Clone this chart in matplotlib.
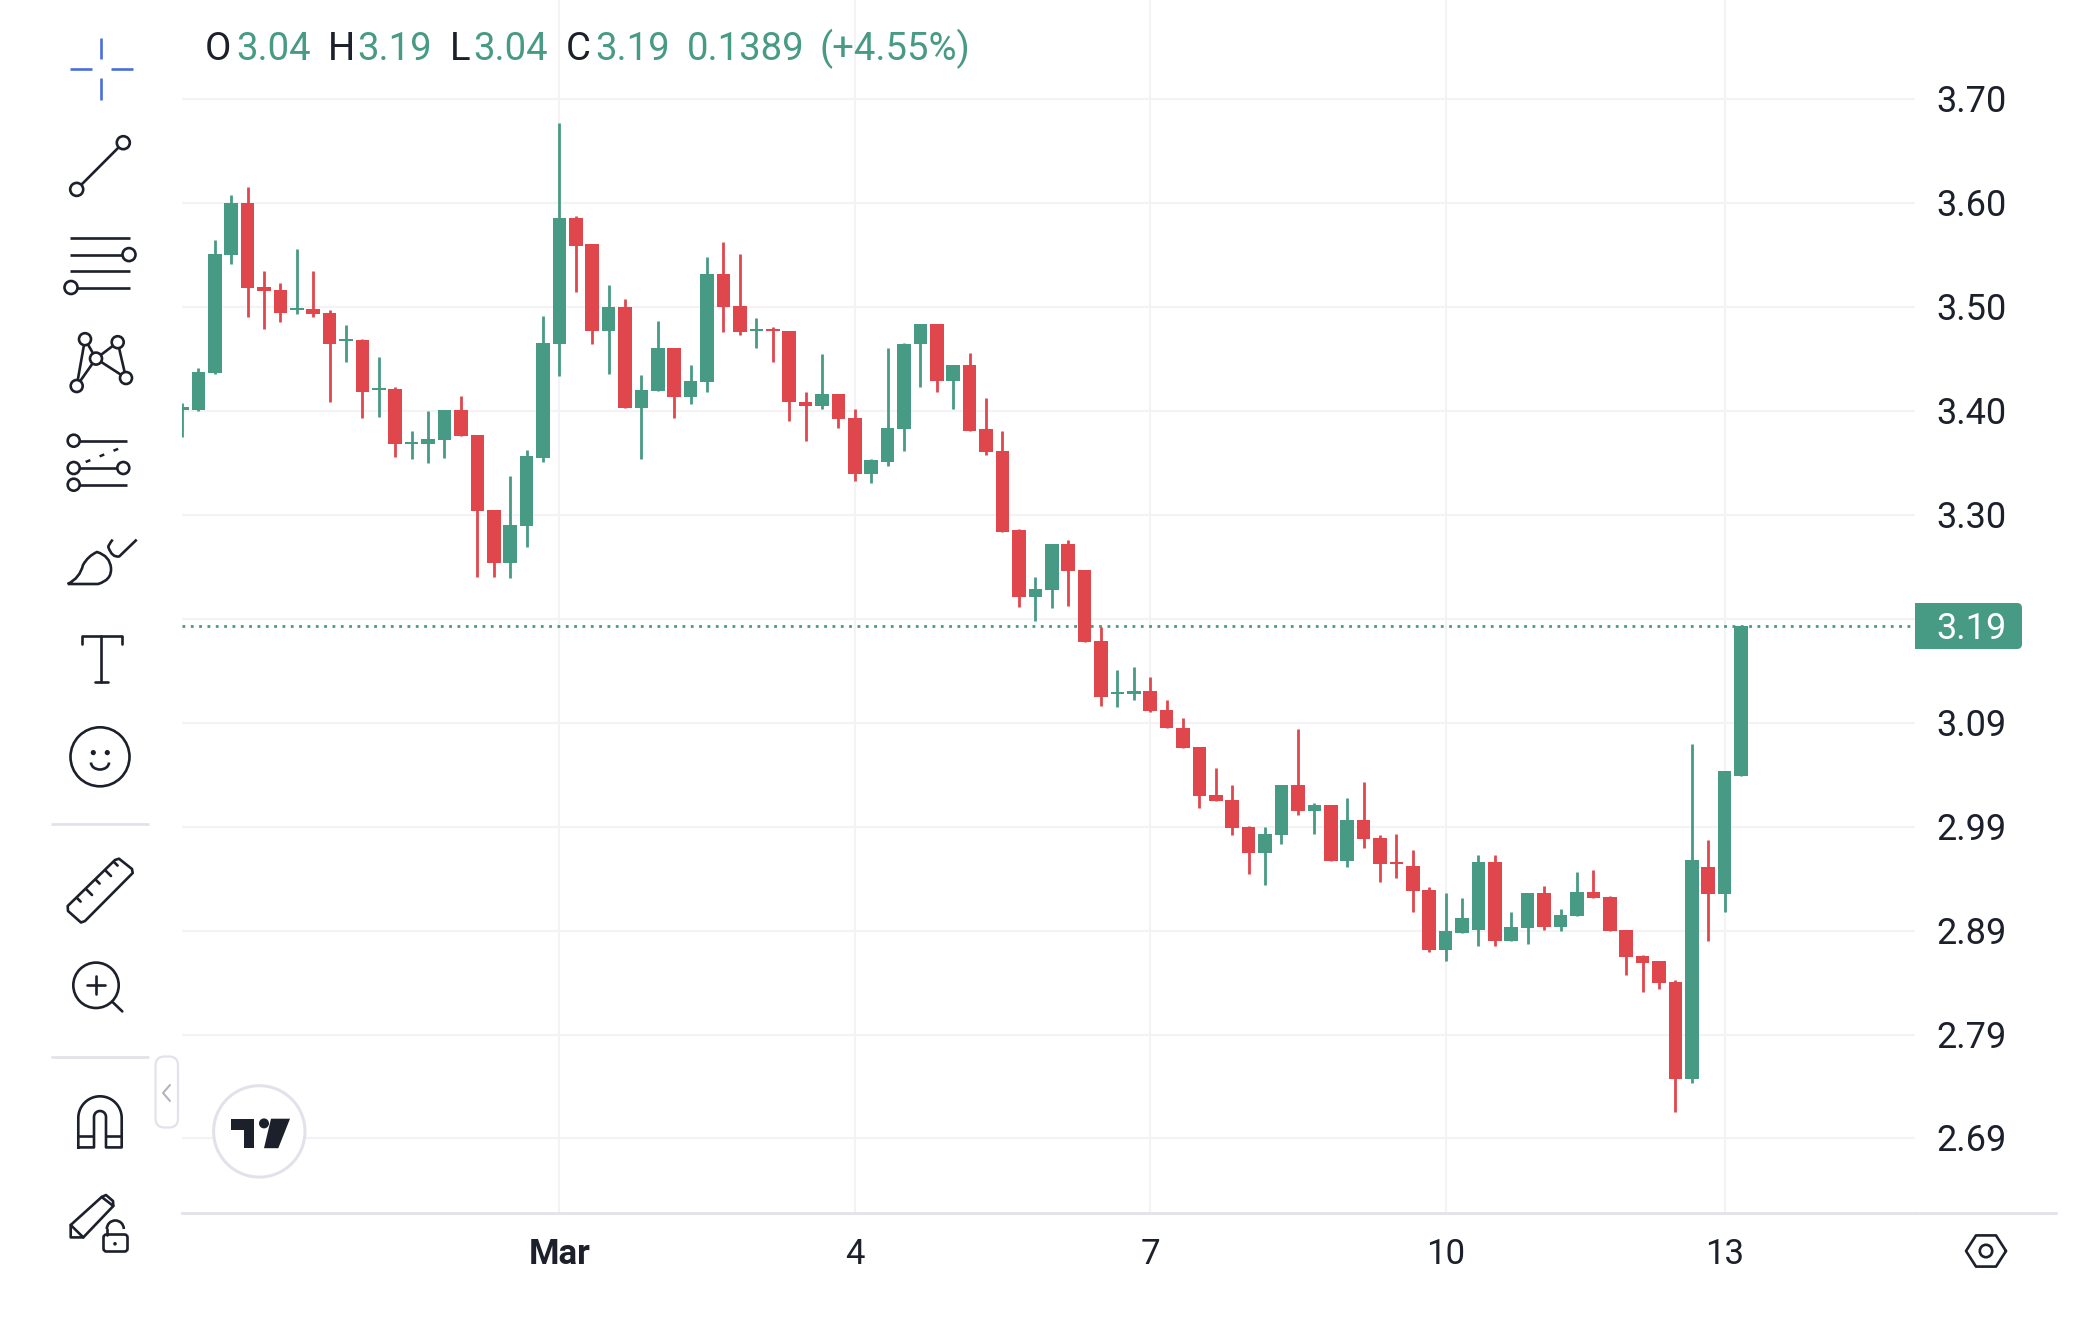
import numpy as np
import matplotlib
matplotlib.use("Agg")
import matplotlib.pyplot as plt
from matplotlib.patches import Circle, Polygon, Rectangle, FancyBboxPatch, PathPatch, Arc
from matplotlib.path import Path

plt.rcParams['font.family'] = ['Roboto', 'DejaVu Sans']

# 4-hour candles, one per bar
opens = [3.396,3.396,3.4316,3.5449,3.5949,3.5144,3.5119,3.4920,3.4932,3.4894,
         3.4624,3.4634,3.4150,3.4159,3.3636,3.3633,3.3672,3.3960,3.3723,3.2998,
         3.2485,3.2844,3.3502,3.4592,3.5805,3.5555,3.4724,3.4948,3.3976,3.4146,
         3.4554,3.4082,3.4227,3.5266,3.4961,3.4717,3.4737,3.4724,3.4041,3.3999,
         3.4118,3.3880,3.3341,3.3460,3.3777,3.4592,3.4791,3.4236,3.4397,3.3774,
         3.3566,3.2802,3.2157,3.2225,3.2671,3.2420,3.1734,3.1227,3.1227,3.1259,
         3.1076,3.0903,3.0720,3.0258,3.0207,2.9943,2.9696,2.9867,3.0354,3.0104,
         3.0155,2.9616,3.0011,2.9841,2.9613,2.9575,2.9340,2.8760,2.8930,2.8955,
         2.9613,2.8853,2.8971,2.9311,2.8984,2.9090,2.9325,2.9275,2.8957,2.8705,
         2.8655,2.8459,2.7525,2.9563,2.9298,3.0435]
highs = [3.4025,3.4368,3.5593,3.6026,3.6103,3.5301,3.5186,3.5513,3.5301,3.4920,
         3.4775,3.4644,3.4474,3.4185,3.3761,3.3948,3.3960,3.4092,3.3723,3.2998,
         3.3328,3.3579,3.4868,3.6726,3.5831,3.5555,3.5160,3.5025,3.4300,3.4817,
         3.4554,3.4397,3.5436,3.5580,3.5462,3.4843,3.4762,3.4724,3.4130,3.4499,
         3.4118,3.3973,3.3489,3.4554,3.4605,3.4791,3.4791,3.4397,3.4512,3.4079,
         3.3761,3.2815,3.2353,3.2671,3.2709,3.2420,3.1869,3.1458,3.1483,3.1394,
         3.1169,3.0999,3.0720,3.0511,3.0354,2.9956,2.9943,3.0354,3.0893,3.0181,
         3.0155,3.0223,3.0377,2.9867,2.9879,2.9722,2.9366,2.9311,2.9260,2.9680,
         2.9680,2.9129,2.9311,2.9379,2.9154,2.9510,2.9537,2.9288,2.8957,2.8718,
         2.8655,2.8479,3.0746,2.9825,3.0485,3.1883]
lows = [3.3697,3.3948,3.4304,3.5369,3.4859,3.4737,3.4804,3.4884,3.4855,3.4041,
        3.4419,3.3880,3.3896,3.3511,3.3486,3.3447,3.3498,3.3710,3.2356,3.2356,
        3.2340,3.2645,3.3463,3.4291,3.5093,3.4592,3.4304,3.3976,3.3486,3.4146,
        3.3883,3.4015,3.4134,3.4711,3.4685,3.4554,3.4422,3.3854,3.3659,3.3973,
        3.3790,3.3274,3.3261,3.3421,3.3566,3.4185,3.4134,3.3973,3.3761,3.3527,
        3.2789,3.2064,3.1933,3.2051,3.2077,3.1724,3.1115,3.1105,3.1169,3.1050,
        3.0896,3.0710,3.0130,3.0197,2.9867,2.9498,2.9392,2.9786,3.0065,2.9879,
        2.9616,2.9562,2.9748,2.9417,2.9459,2.9129,2.8747,2.8654,2.8930,2.8798,
        2.8798,2.8853,2.8824,2.8955,2.8943,2.9090,2.9262,2.8943,2.8526,2.8363,
        2.8390,2.7206,2.7485,2.8854,2.9129,3.0435]
closes = [3.399,3.4329,3.5462,3.5949,3.5135,3.5109,3.4897,3.4945,3.4884,3.4592,
          3.4644,3.4134,3.4169,3.3633,3.3656,3.3684,3.3960,3.3710,3.2988,3.2485,
          3.2854,3.3514,3.4605,3.5805,3.5542,3.4724,3.4948,3.3976,3.4156,3.4554,
          3.4082,3.4236,3.5266,3.4948,3.4711,3.4737,3.4717,3.4041,3.4002,3.4118,
          3.3870,3.3341,3.3476,3.3790,3.4592,3.4791,3.4236,3.4397,3.3761,3.3553,
          3.2789,3.2157,3.2234,3.2671,3.2408,3.1724,3.1195,3.1246,3.1259,3.1066,
          3.0896,3.0710,3.0248,3.0197,2.9934,2.9696,2.9879,3.0354,3.0104,3.0155,
          2.9616,3.0011,2.9828,2.9591,2.9591,2.9328,2.8760,2.8943,2.9074,2.9613,
          2.8853,2.8981,2.9311,2.8984,2.9100,2.9324,2.9262,2.8943,2.8695,2.8642,
          2.8446,2.7525,2.9629,2.9298,3.0485,3.1883]

price_ticks = [3.695,3.595,3.495,3.395,3.295,3.195,3.095,2.995,2.895,2.795,2.695]
price_labels = ['3.70','3.60','3.50','3.40','3.30','','3.09','2.99','2.89','2.79','2.69']
time_ticks = [23, 41, 59, 77, 94]
time_labels = ['Mar', '4', '7', '10', '13']
header = [('O','k'),('3.04','g'),('H','k'),('3.19','g'),('L','k'),('3.04','g'),
          ('C','k'),('3.19','g'),('0.1389','g'),('(+4.55%)','g')]
last_label = '3.19'

GREEN = '#479a83'
RED = '#e0474d'
INK = '#1c202b'
GRID = '#f3f3f5'
EDGE = '#e2e3ea'
FS = 26

W, H = 2084, 1332
fig = plt.figure(figsize=(W/100, H/100), dpi=100, facecolor='white')
L_, R_, B_ = 182, 1915, 1212.5
ax = fig.add_axes([L_/W, (H-B_)/H, (R_-L_)/W, B_/H])
ax.set_xlim(0.006, 105.6)
ax.set_ylim(2.6237, 3.7907)
x = np.arange(len(opens))
o, h, l, c = map(np.array, (opens, highs, lows, closes))
cols = [GREEN if ci >= oi else RED for oi, ci in zip(o, c)]
ax.vlines(x, l, h, colors=cols, linewidth=2.0, zorder=3)
ax.bar(x, np.abs(c-o), bottom=np.minimum(o, c), width=0.83, color=cols, linewidth=0, zorder=3)
ax.axhline(c[-1], color=GREEN, lw=2.0, ls=(0, (1, 2)), zorder=2.5)

ax.set_xticks(time_ticks, time_labels)
ax.set_yticks(price_ticks, [])
ax.yaxis.tick_right()
ax.tick_params(axis='y', length=0)
ax.tick_params(axis='x', length=0, pad=18, labelsize=25, labelcolor=INK)
ax.get_xticklabels()[0].set_fontweight('bold')
ax.grid(True, color=GRID, lw=1.5, zorder=0)
ax.set_axisbelow(True)
for s in ('top', 'right', 'left'):
    ax.spines[s].set_visible(False)
ax.spines['bottom'].set_color(EDGE)
ax.spines['bottom'].set_linewidth(2)

# price labels, anchored to the price scale with a small fixed offset
ptrans = ax.get_yaxis_transform()
for pv, pl in zip(price_ticks, price_labels):
    ax.annotate(pl, xy=(1, pv), xycoords=ptrans, xytext=(15.7, 0.7), textcoords='offset points',
                fontsize=FS, color=INK, ha='left', va='center_baseline', annotation_clip=False)

# full-figure pixel overlay for the chart furniture
ov = fig.add_axes([0, 0, 1, 1], zorder=5)
ov.set_xlim(0, W); ov.set_ylim(H, 0); ov.axis('off'); ov.patch.set_alpha(0)
LW = 1.9
def line(xs, ys, color=INK, lw=LW, **kw):
    ov.plot(xs, ys, color=color, lw=lw, solid_capstyle=kw.pop('cap', 'round'), zorder=kw.pop('zorder', 7), **kw)
def ring(cx, cy, r=6.5, lw=LW, ec=INK, fc='white', z=6):
    ov.add_patch(Circle((cx, cy), r, fc=fc, ec=ec, lw=lw, zorder=z))

ov.plot([1916, 2056], [1212.5, 1212.5], color=EDGE, lw=2)

# header
xs_head = [205, 236, 328, 357, 450, 473, 566, 595, 687, 820]
for (t, k), xp in zip(header, xs_head):
    ov.text(xp, 60, t, color=INK if k == 'k' else GREEN, fontsize=27.5, ha='left', va='baseline')

# last-price tag
ov.add_patch(FancyBboxPatch((1919, 605), 101, 42, boxstyle='round,pad=2,rounding_size=5', fc=GREEN, ec='none'))
ov.add_patch(Rectangle((1915, 603), 20, 46, fc=GREEN, ec='none'))
ov.text(1971, 625, last_label, color='white', fontsize=FS, ha='center', va='center_baseline')

# toolbar: crosshair
BLUE = '#4a6fdc'
line([101.3, 101.3], [38, 59], BLUE, 1.9, cap='butt'); line([101.3, 101.3], [78, 100], BLUE, 1.9, cap='butt')
line([70, 92.3], [68.6, 68.6], BLUE, 1.9, cap='butt'); line([111, 133], [68.6, 68.6], BLUE, 1.9, cap='butt')
# trend line
line([76.7, 123.3], [189.4, 142.7], zorder=5); ring(76.7, 189.4); ring(123.3, 142.7)
# fib lines
for yy in (238.2, 254.6, 271, 287.5):
    line([70, 130], [yy, yy], cap='butt', zorder=5)
ring(129, 254.6); ring(71, 287.5)
# pattern
pts = dict(a=(85, 339.2), b=(117.7, 342.2), c=(96, 358.6), d=(126, 378), e=(76.7, 386))
for p, q in ('ea', 'ac', 'ec', 'cb', 'cd', 'bd'):
    line([pts[p][0], pts[q][0]], [pts[p][1], pts[q][1]], zorder=5)
for v in pts.values():
    ring(v[0], v[1], 6)
# pitchfork style
for yy in (440.7, 468, 484.7):
    line([73.7, 127.3], [yy, yy], cap='butt', zorder=5); ring(73.7, yy, 6)
ring(123.3, 468, 6)
ov.plot([85.7, 122.7], [462, 447], color=INK, lw=1.8, ls=(0, (2, 4)))
# brush
brush = Path([(67.7, 584), (80, 578), (83, 565), (88, 556), (97, 552), (110, 556), (111, 568), (112, 580), (98, 584), (67.7, 584)],
             [Path.MOVETO, Path.CURVE3, Path.CURVE3, Path.CURVE3, Path.CURVE3, Path.CURVE3, Path.CURVE3, Path.CURVE3, Path.CURVE3, Path.LINETO])
ov.add_patch(PathPatch(brush, fc='none', ec=INK, lw=LW))
hook = Path([(136.7, 539.6), (119.3, 556.4), (112, 558), (108.3, 547), (108.3, 545), (112.7, 539.6)],
            [Path.MOVETO, Path.LINETO, Path.CURVE3, Path.CURVE3, Path.CURVE3, Path.CURVE3])
ov.add_patch(PathPatch(hook, fc='none', ec=INK, lw=LW))
# text tool
line([81.7, 81.7, 121.7, 121.7], [644, 635.5, 635.5, 644])
line([101.3, 101.3], [635.5, 682]); line([95, 108.3], [682, 682])
# smiley
ring(100, 756.8, 29.5)
ov.add_patch(Circle((93.3, 752.6), 2.6, fc=INK, ec='none', zorder=7))
ov.add_patch(Circle((107.3, 752.6), 2.6, fc=INK, ec='none', zorder=7))
ov.add_patch(Arc((100, 762.5), 18, 14, theta1=0, theta2=180, ec=INK, lw=LW, zorder=7))
# separators
for yy in (824, 1056.5):
    line([51, 149.3], [yy, yy], EDGE, 2, cap='butt')
# ruler
ov.add_patch(Polygon([(67.7, 906), (115, 860), (119, 858.7), (132, 869), (132.7, 873), (85, 921), (81, 922.5), (68, 911)],
                     closed=True, fc='none', ec=INK, lw=LW, joinstyle='round'))
for a, b, f in [(77, 898, .6), (86, 889, 1), (96, 880, .6), (105, 870, 1), (114, 862, .6)]:
    line([a, a + 6*f], [b, b + 6*f], lw=LW)
# zoom
ring(96, 985.3, 22.7)
line([87, 105], [985.3, 985.3]); line([96, 96], [976.3, 994.3])
line([112.3, 122.3], [1001.8, 1011.4])
# magnet
mag_o = np.linspace(np.pi, 2*np.pi, 40)
ov.plot(np.r_[78.3, 100 + 21.7*np.cos(mag_o), 121.7, 106, 100 + 6*np.cos(mag_o[::-1]), 94, 78.3],
        np.r_[1147.4, 1118 + 21.7*np.sin(mag_o), 1147.4, 1147.4, 1117 + 6*np.sin(mag_o[::-1]), 1147.4, 1147.4],
        color=INK, lw=LW, solid_joinstyle='round')
line([78.3, 94], [1136.4, 1136.4], cap='butt'); line([106, 121.7], [1136.4, 1136.4], cap='butt')
# pencil and lock
ov.add_patch(Polygon([(70.7, 1237.4), (70.7, 1225), (101.7, 1197), (106, 1195), (113, 1201), (113.3, 1206), (83.3, 1237.4)],
                     closed=True, fc='none', ec=INK, lw=LW, joinstyle='round'))
line([70.7, 83.3], [1225, 1237.4]); line([101.7, 113.3], [1197, 1206])
ov.add_patch(FancyBboxPatch((104.5, 1235.5), 22, 15, boxstyle='round,pad=1,rounding_size=3', fc='white', ec=INK, lw=LW, zorder=6))
ov.add_patch(Arc((115.3, 1229), 17, 17, theta1=180, theta2=360, ec=INK, lw=LW, zorder=6))
line([106.8, 106.8], [1229, 1234.5])
ov.add_patch(Circle((115, 1243.8), 1.8, fc=INK, ec='none', zorder=7))
# collapse button
ov.add_patch(FancyBboxPatch((159, 1060), 15.5, 64, boxstyle='round,pad=3.5,rounding_size=9', fc='white', ec=EDGE, lw=1.6))
line([170, 163, 170], [1085, 1093, 1101], '#b2b5be', 1.5)
# TV badge
ring(259.3, 1131.4, 45.7, lw=2.2, ec=EDGE)
ov.add_patch(Polygon([(231, 1118.7), (254.3, 1118.7), (254.3, 1148.2), (244.3, 1148.2), (244.3, 1130), (231, 1130)], fc=INK, ec='none', zorder=7))
ov.add_patch(Circle((264, 1123.4), 5, fc=INK, ec='none', zorder=7))
ov.add_patch(Polygon([(271, 1118.7), (290, 1118.7), (278.3, 1148.2), (264, 1148.2)], fc=INK, ec='none', zorder=7))
# settings hexagon
ang = np.deg2rad(np.arange(0, 361, 60))
line(1986 + 20*np.cos(ang), 1251 + 20*np.sin(ang)*0.9, lw=LW)
ring(1986, 1251, 6.2)

fig.savefig('out.png', dpi=100, facecolor='white')
